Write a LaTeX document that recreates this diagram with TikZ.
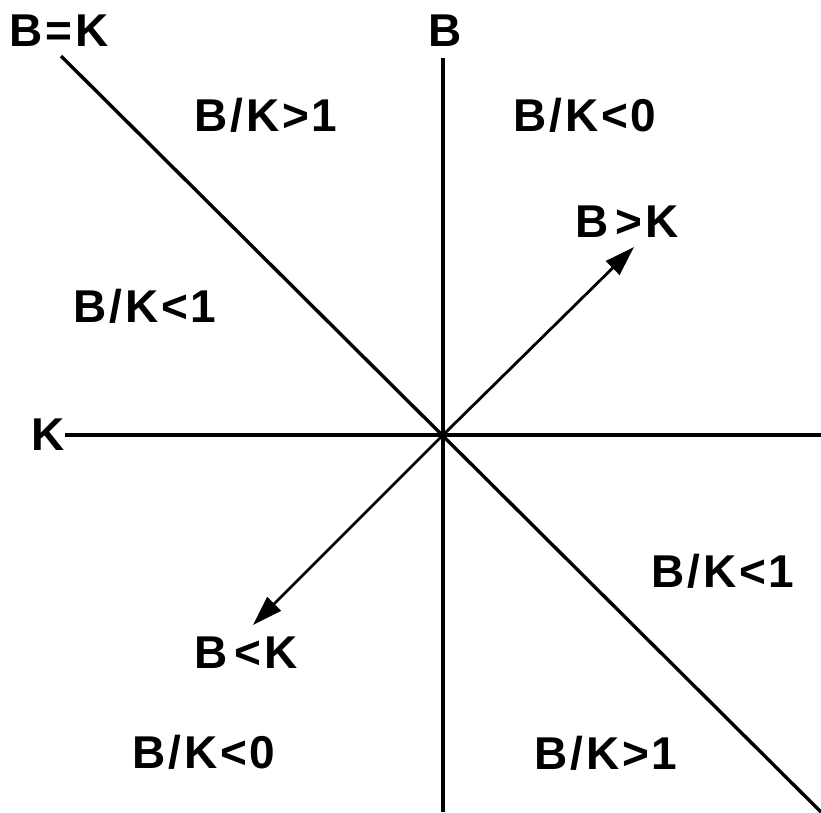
\documentclass[tikz,border=0pt]{standalone}
\usepackage{fontspec}
\setmainfont{Liberation Sans}[LetterSpace=6]
\usetikzlibrary{arrows.meta}
\newcommand{\lt}{\textless}
\newcommand{\gt}{\textgreater}
\begin{document}
\begin{tikzpicture}[x=1pt,y=-1pt,
  axis/.style={line width=3.4pt,black},
  arr/.style={line width=2.8pt,-{Triangle[length=30pt,width=19pt]}},
  lbl/.style={font=\fontsize{46}{50}\selectfont\bfseries,inner sep=0pt,anchor=center}]
\useasboundingbox (0,0) rectangle (821,812);
\coordinate (O) at (443,435);
\coordinate (vtop) at (443,58);
\coordinate (vbot) at (443,812);
\coordinate (hleft) at (65,435);
\coordinate (hright) at (821,435);
\coordinate (dtop) at (61,56);
\coordinate (dbot) at (821,812);
\coordinate (ne) at (634,247);
\coordinate (sw) at (253,625);
\draw[axis] (vtop) -- (vbot);
\draw[axis] (hleft) -- (hright);
\draw[axis] (dtop) -- (dbot);
\draw[arr] (O) -- (ne);
\draw[arr] (O) -- (sw);
\node[lbl] (bk) at (59,31) {B=K};
\node[lbl] (b) at (445,31) {B};
\node[lbl] (k) at (48,435) {K};
\node[lbl] (r1) at (266,115) {B/K\gt1};
\node[lbl] (r2) at (585,115) {B/K\lt0};
\node[lbl] (bgk) at (627,222) {B\,\gt K};
\node[lbl] (r3) at (145,306) {B/K\lt1};
\node[lbl] (r4) at (723,571) {B/K\lt1};
\node[lbl] (blk) at (246,653) {B\,\lt K};
\node[lbl] (r5) at (204,752) {B/K\lt0};
\node[lbl] (r6) at (606,753) {B/K\gt1};
\end{tikzpicture}
\end{document}
